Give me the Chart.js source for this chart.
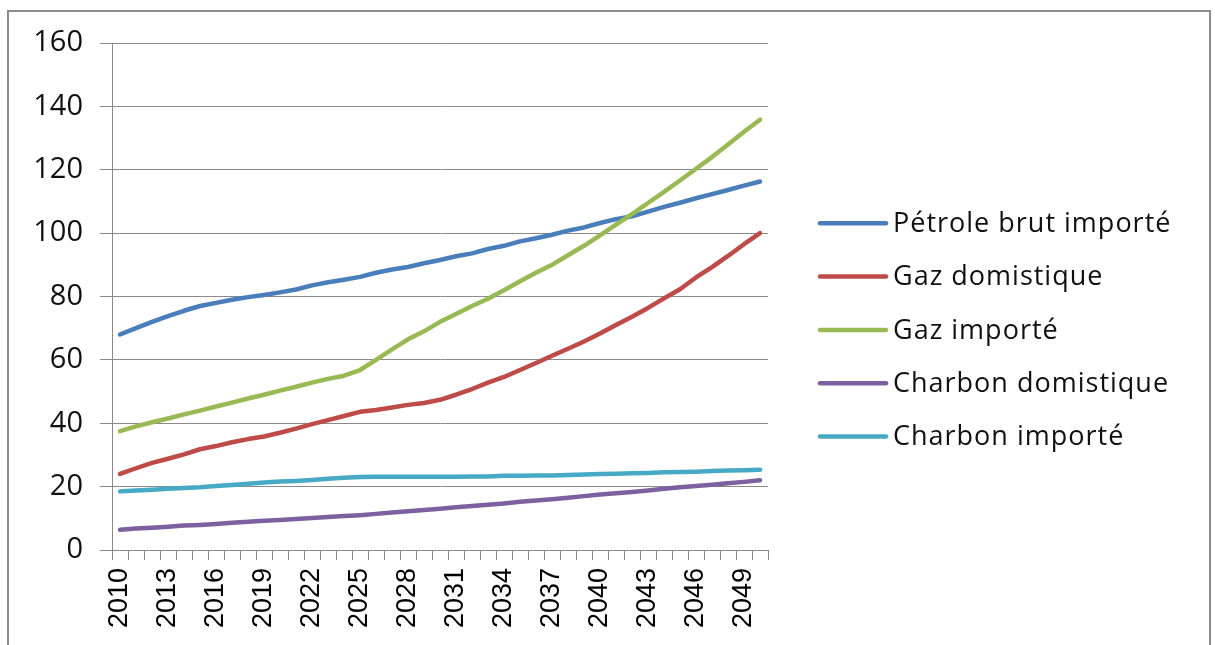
<!DOCTYPE html>
<html>
<head>
<meta charset="utf-8">
<script src="https://cdn.jsdelivr.net/npm/chart.js@4"></script>
<style>
  body { margin: 0; background: #fff; }
  #output { position: absolute; left: 0; top: 0; width: 1215px; height: 645px; }
</style>
</head>
<body>
<div id="output"><canvas id="chart" width="1215" height="645"></canvas></div>
<script>
// annees 2010 - 2050
var years = [];
for (var y = 2010; y <= 2050; y++) years.push(String(y));
var shownYears = ['2010','2013','2016','2019','2022','2025','2028','2031','2034','2037','2040','2043','2046','2049'];

var seriesNames = ['Pétrole brut importé', 'Gaz domistique', 'Gaz importé', 'Charbon domistique', 'Charbon importé'];
var seriesColors = ['#4a7ebb', '#be4b48', '#98b954', '#7d60a0', '#46aac5'];

var petroleImporte = [68, 70, 72, 73.8, 75.5, 77, 78, 79, 79.8, 80.5,
    81.3, 82.2, 83.5, 84.5, 85.3, 86.2, 87.5, 88.5, 89.3, 90.5,
    91.5, 92.7, 93.6, 95, 96, 97.4, 98.4, 99.5, 100.8, 101.8,
    103.2, 104.4, 105.3, 106.8, 108.3, 109.6, 111, 112.3, 113.6, 115, 116.3];
var gazDomistique = [24, 25.8, 27.5, 28.8, 30.2, 31.8, 32.8, 34, 35, 35.8,
    37, 38.3, 39.7, 41, 42.3, 43.6, 44.2, 45, 45.8, 46.4,
    47.4, 49, 50.8, 52.8, 54.6, 56.8, 59, 61.3, 63.5, 65.8,
    68.3, 71, 73.6, 76.4, 79.4, 82.3, 86, 89.3, 92.8, 96.5, 100];
var gazImporte = [37.5, 39, 40.3, 41.5, 42.8, 44, 45.3, 46.5, 47.8, 49,
    50.3, 51.5, 52.8, 54, 55, 56.8, 60, 63.3, 66.5, 69,
    72, 74.5, 77, 79.3, 82, 84.8, 87.5, 90, 93, 96,
    99.3, 102.7, 106, 109.5, 113, 116.6, 120.3, 124, 128, 132, 135.8];
var charbonDomistique = [6.4, 6.8, 7, 7.3, 7.7, 7.9, 8.2, 8.6, 8.9, 9.2,
    9.5, 9.8, 10.1, 10.4, 10.7, 11, 11.4, 11.8, 12.2, 12.6,
    13, 13.5, 13.9, 14.3, 14.7, 15.2, 15.6, 16, 16.5, 17,
    17.5, 17.9, 18.3, 18.8, 19.3, 19.8, 20.2, 20.6, 21.1, 21.5, 22];
var charbonImporte = [18.5, 18.8, 19, 19.3, 19.6, 19.8, 20.2, 20.5, 20.9, 21.3,
    21.6, 21.8, 22.1, 22.5, 22.8, 23, 23.1, 23.1, 23.1, 23.1,
    23.1, 23.1, 23.2, 23.2, 23.4, 23.4, 23.5, 23.5, 23.7, 23.8,
    24, 24.1, 24.2, 24.3, 24.5, 24.6, 24.7, 24.9, 25.1, 25.2, 25.3];

var seriesValues = [petroleImporte, gazDomistique, gazImporte, charbonDomistique, charbonImporte];

// cadre + legende
var framePlugin = {
    id: 'frame',
    beforeDraw: function (chart) {
        var ctx = chart.ctx;
        ctx.save();
        ctx.fillStyle = '#fff';
        ctx.fillRect(0, 0, chart.width, chart.height);
        ctx.strokeStyle = '#8c8c8c';
        ctx.lineWidth = 2;
        ctx.strokeRect(8, 11, 1202, 700);
        ctx.restore();
    },
    afterDraw: function (chart) {
        var ctx = chart.ctx;
        var x0 = chart.chartArea.right + 52;
        ctx.save();
        ctx.font = '27px "Open Sans"';
        ctx.letterSpacing = '1px';
        ctx.textBaseline = 'middle';
        ctx.lineCap = 'round';
        chart.data.datasets.forEach(function (ds, i) {
            var yy = 223.3 + i * 53.3;
            ctx.strokeStyle = ds.borderColor;
            ctx.lineWidth = 4.5;
            ctx.beginPath();
            ctx.moveTo(x0, yy);
            ctx.lineTo(x0 + 66, yy);
            ctx.stroke();
            ctx.fillStyle = '#111';
            ctx.fillText(ds.label, x0 + 73, yy + 1);
        });
        ctx.restore();
    }
};

var datasets = seriesNames.map(function (name, i) {
    return {
        label: name,
        data: seriesValues[i],
        borderColor: seriesColors[i],
        backgroundColor: seriesColors[i],
        borderWidth: 4.5,
        pointRadius: 0,
        tension: 0,
        borderCapStyle: 'round',
        borderJoinStyle: 'round',
        order: seriesNames.length - i
    };
});

var myChart = new Chart(document.getElementById('chart'), {
    type: 'line',
    data: { labels: years, datasets: datasets },
    plugins: [framePlugin],
    options: {
        responsive: false,
        animation: false,
        devicePixelRatio: 1,
        layout: { padding: { left: 0, top: 43, right: 447, bottom: 0 } },
        plugins: {
            legend: { display: false },
            tooltip: { enabled: false },
            title: { display: false }
        },
        scales: {
            x: {
                offset: true,
                grid: {
                    offset: true,
                    drawOnChartArea: false,
                    drawTicks: true,
                    tickLength: 10,
                    color: '#8a8a8a'
                },
                border: { display: true, color: '#8a8a8a' },
                ticks: {
                    autoSkip: false,
                    minRotation: 90,
                    maxRotation: 90,
                    padding: 8,
                    color: '#000',
                    font: { family: '"Liberation Sans", Arial, sans-serif', size: 27 },
                    callback: function (val) {
                        var lab = this.getLabelForValue(val);
                        return shownYears.indexOf(lab) >= 0 ? lab : '';
                    }
                },
                afterFit: function (scale) { scale.height = 95; }
            },
            y: {
                min: 0,
                max: 160,
                grid: {
                    color: '#8a8a8a',
                    tickLength: 12
                },
                border: { display: true, color: '#8a8a8a' },
                ticks: {
                    stepSize: 20,
                    padding: 17,
                    color: '#111',
                    font: { family: '"Open Sans", sans-serif', size: 29 }
                },
                afterFit: function (scale) { scale.width = 112; }
            }
        }
    }
});
</script>
</body>
</html>
